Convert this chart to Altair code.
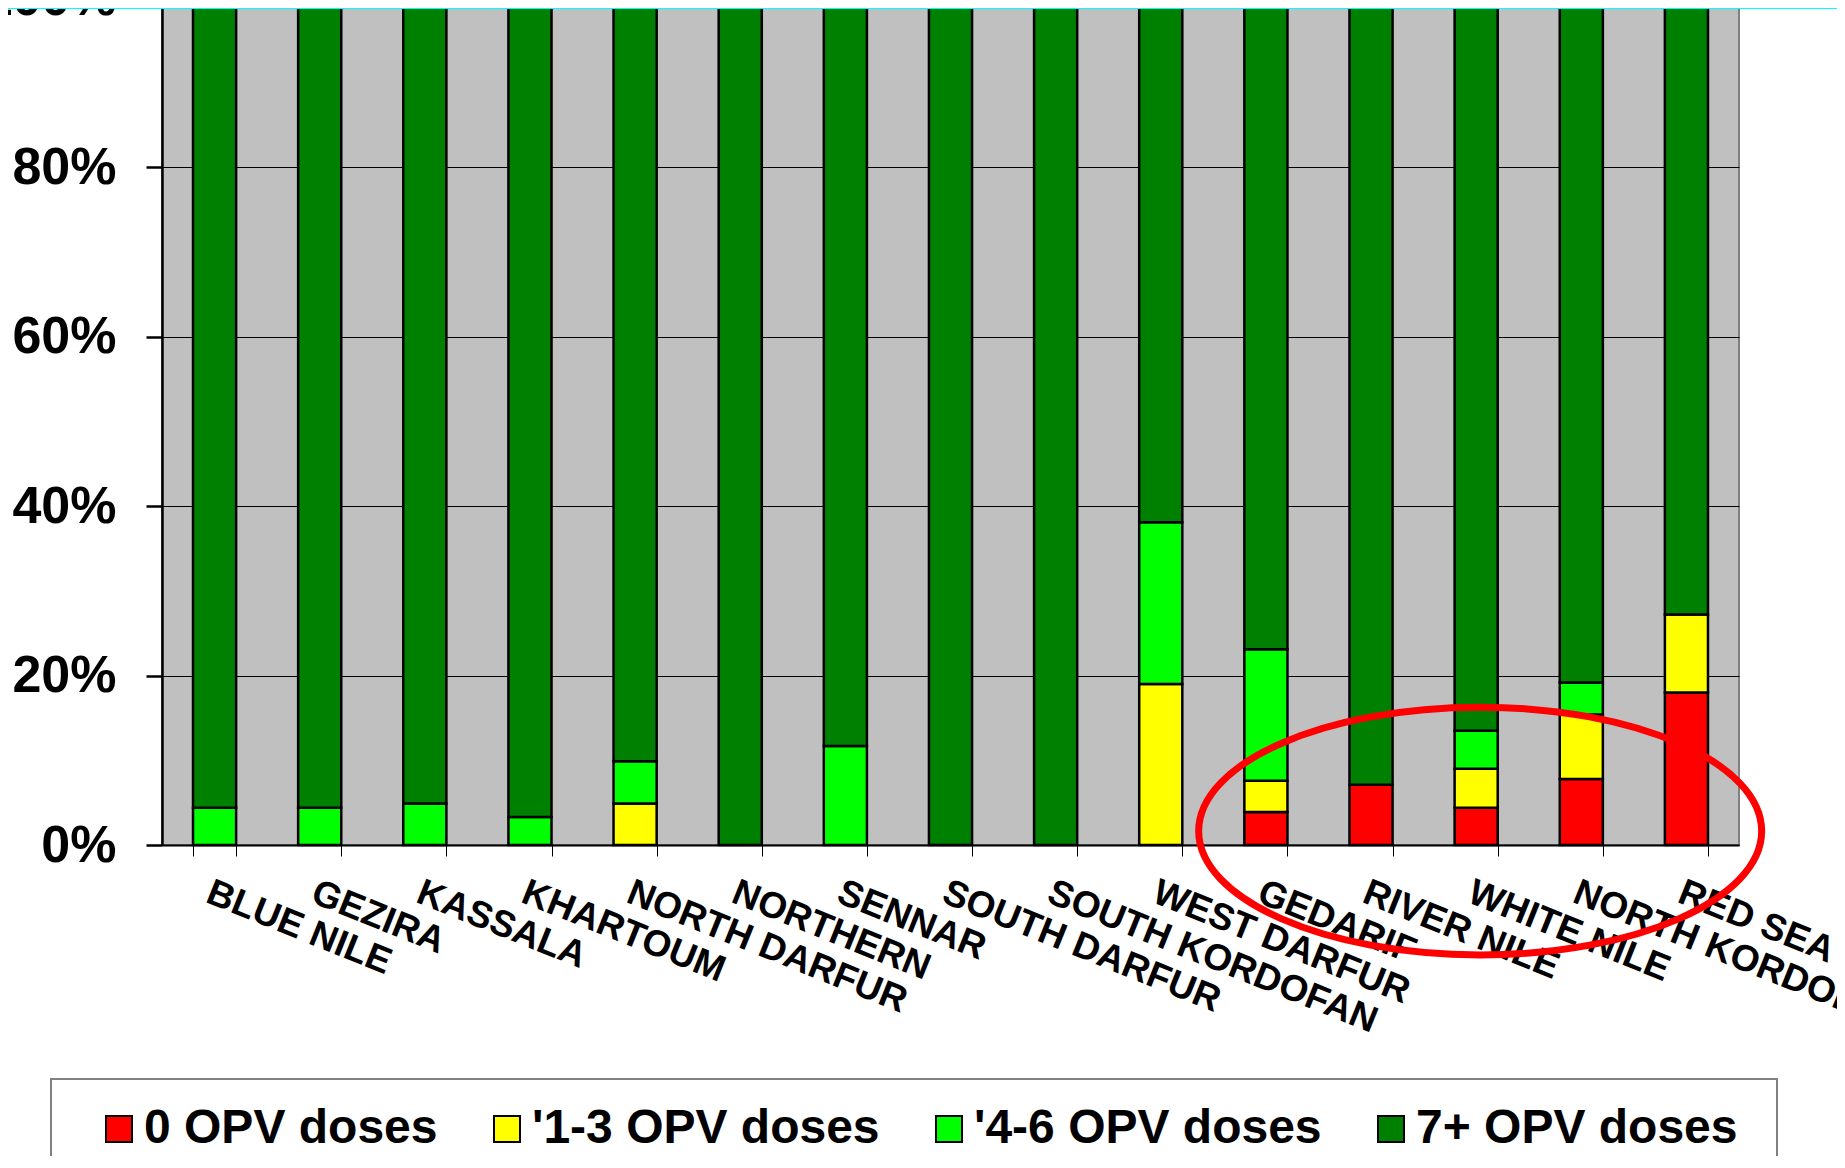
import altair as alt
import pandas as pd

regions = ["BLUE NILE", "GEZIRA", "KASSALA", "KHARTOUM", "NORTH DARFUR", "NORTHERN",
           "SENNAR", "SOUTH DARFUR", "SOUTH KORDOFAN", "WEST DARFUR", "GEDARIF",
           "RIVER NILE", "WHITE NILE", "NORTH KORDOFAN", "RED SEA"]
doses = ["0 OPV doses", "'1-3 OPV doses", "'4-6 OPV doses", "7+ OPV doses"]
colors = ["#FF0000", "#FFFF00", "#00FF00", "#008000"]

# percent values
zero_doses = [0, 0, 0, 0, 0, 0, 0, 0, 0, 0, 3.9, 7.1, 4.4, 7.8, 18.0]
one_three = [0, 0, 0, 0, 4.9, 0, 0, 0, 0, 19.0, 3.7, 0, 4.6, 7.6, 9.2]
four_six = [4.4, 4.4, 4.9, 3.3, 5.0, 0, 11.7, 0, 0, 19.1, 15.5, 0, 4.5, 3.8, 0]
seven_plus = [round(100 - a - b - c, 1) for a, b, c in zip(zero_doses, one_three, four_six)]

series = [zero_doses, one_three, four_six, seven_plus]
rows = []
for k, (name, vals) in enumerate(zip(doses, series)):
    for r, v in zip(regions, vals):
        if v > 0:
            rows.append({"region": r, "dose": name, "value": v / 100.0, "order": k})
df = pd.DataFrame(rows)

FONT = "Liberation Sans"
W, H = 1577, 847

bars = alt.Chart(df).mark_bar(stroke="black", strokeWidth=2.5).encode(
    x=alt.X("region:N", sort=regions,
            scale=alt.Scale(paddingInner=0.59, paddingOuter=0.295),
            axis=alt.Axis(title=None, tickBand="extent",
                          labelAngle=22, labelAlign="left", labelBaseline="top",
                          labelFont=FONT, labelFontSize=37, labelFontWeight="bold",
                          labelColor="black", labelPadding=18, labelOverlap=False,
                          labelBound=False, labelLimit=0,
                          tickColor="black", tickWidth=1, tickSize=11,
                          domainColor="black", domainWidth=2, grid=False)),
    y=alt.Y("value:Q", stack="zero", scale=alt.Scale(domain=[0, 1], nice=False),
            axis=alt.Axis(title=None, values=[0, 0.2, 0.4, 0.6, 0.8, 1.0], format=".0%",
                          labelFont=FONT, labelFontSize=52, labelFontWeight="bold",
                          labelColor="black", labelPadding=30,
                          tickColor="black", tickWidth=2.5, tickSize=16,
                          domainColor="black", domainWidth=2.5,
                          grid=True, gridColor="black", gridWidth=1)),
    color=alt.Color("dose:N", scale=alt.Scale(domain=doses, range=colors),
                    legend=alt.Legend(orient="none", legendX=-67, legendY=1107,
                                      direction="horizontal", columns=4, title=None,
                                      symbolType="square", symbolSize=676,
                                      symbolStrokeColor="black", symbolStrokeWidth=2,
                                      symbolOpacity=1,
                                      labelFont=FONT, labelFontSize=48,
                                      labelFontWeight="bold", labelColor="black",
                                      labelOffset=1, columnPadding=45, labelLimit=0,
                                      padding=0)),
    order=alt.Order("order:Q"),
)

# annotation ellipse placed through the scales
ell_df = pd.DataFrame({"region": ["WHITE NILE"], "v": [0.0165]})
ellipse_path = "M -1 0 A 1 0.44 0 1 1 1 0 A 1 0.44 0 1 1 -1 0 Z"
ellipse = alt.Chart(ell_df).mark_point(
    shape=ellipse_path, size=563 * 563, filled=False, color="red",
    strokeWidth=7, opacity=1, xOffset=4
).encode(
    x=alt.X("region:N", sort=regions),
    y=alt.Y("v:Q"),
)

dummy = pd.DataFrame({"a": [0]})
frame = alt.Chart(dummy).mark_rect(fill="white", fillOpacity=0, stroke="#808080",
                                   strokeWidth=2).encode(
    x=alt.value(-111), x2=alt.value(1615), y=alt.value(1081), y2=alt.value(1300))
cyan = alt.Chart(dummy).mark_rect(color="#00FFFF").encode(
    x=alt.value(-170), x2=alt.value(1700), y=alt.value(-20), y2=alt.value(11))
yellow = alt.Chart(dummy).mark_rect(color="#FFFF00").encode(
    x=alt.value(-170), x2=alt.value(191), y=alt.value(1161), y2=alt.value(1180))

chart = alt.layer(frame, bars, ellipse, cyan, yellow).properties(
    width=W, height=H,
    autosize=alt.AutoSizeParams(type="none"),
    padding={"left": 154, "top": -10, "right": 98, "bottom": 311},
    background="white",
).configure_view(fill="#C0C0C0", stroke="#808080", strokeWidth=2)

chart.save("out.html", embed_options={"renderer": "svg", "actions": False})
